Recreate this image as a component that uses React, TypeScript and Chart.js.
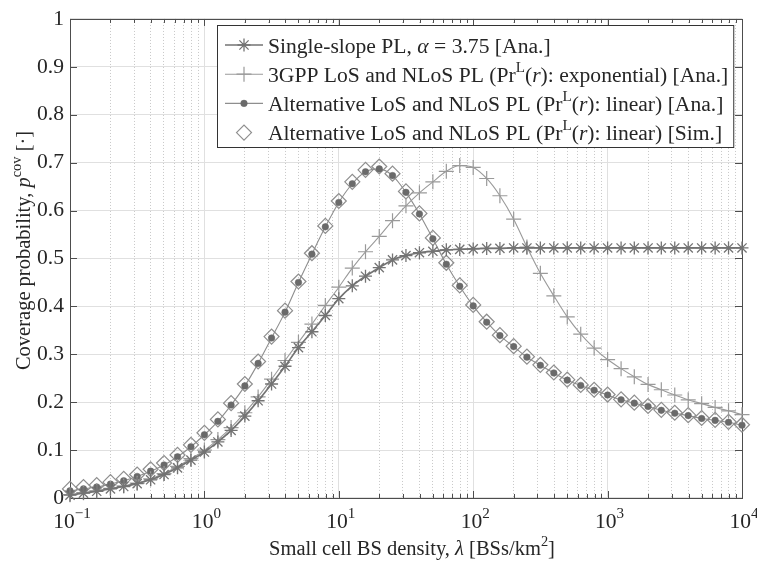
import React, { useEffect, useRef } from 'react';
import { Chart, registerables } from 'chart.js';
import { drawPoint } from 'chart.js/helpers';

Chart.register(...registerables);

// ---------- data ----------
const densities = [
  0.1, 0.126, 0.158, 0.2, 0.251, 0.316, 0.398, 0.501, 0.631, 0.794,
  1, 1.26, 1.58, 2, 2.51, 3.16, 3.98, 5.01, 6.31, 7.94,
  10, 12.6, 15.8, 20, 25.1, 31.6, 39.8, 50.1, 63.1, 79.4,
  100, 126, 158, 200, 251, 316, 398, 501, 631, 794,
  1000, 1260, 1580, 2000, 2510, 3160, 3980, 5010, 6310, 7940, 10000,
];

const singleSlope = [
  0.006, 0.010, 0.014, 0.019, 0.024, 0.030, 0.038, 0.049, 0.063, 0.079,
  0.096, 0.117, 0.141, 0.171, 0.203, 0.238, 0.275, 0.314, 0.347, 0.381,
  0.416, 0.443, 0.463, 0.481, 0.497, 0.506, 0.512, 0.515, 0.518, 0.519,
  0.520, 0.521, 0.521, 0.522, 0.522, 0.522, 0.522, 0.522, 0.522, 0.522,
  0.522, 0.522, 0.522, 0.522, 0.522, 0.522, 0.522, 0.522, 0.522, 0.522, 0.522,
];

const gppExp = [
  0.007, 0.011, 0.015, 0.020, 0.025, 0.031, 0.040, 0.051, 0.066, 0.082,
  0.100, 0.122, 0.147, 0.178, 0.211, 0.248, 0.287, 0.325, 0.363, 0.402,
  0.440, 0.480, 0.514, 0.546, 0.579, 0.610, 0.637, 0.660, 0.682, 0.694,
  0.690, 0.667, 0.631, 0.582, 0.524, 0.469, 0.422, 0.378, 0.342, 0.313,
  0.289, 0.270, 0.253, 0.237, 0.226, 0.215, 0.205, 0.197, 0.189, 0.182, 0.174,
];

const altLinearAna = [
  0.015, 0.019, 0.023, 0.029, 0.036, 0.045, 0.056, 0.069, 0.086, 0.107,
  0.132, 0.160, 0.194, 0.234, 0.281, 0.334, 0.388, 0.450, 0.509, 0.566,
  0.617, 0.656, 0.681, 0.687, 0.673, 0.638, 0.593, 0.541, 0.488, 0.442,
  0.401, 0.367, 0.339, 0.316, 0.294, 0.277, 0.261, 0.246, 0.235, 0.225,
  0.215, 0.205, 0.198, 0.191, 0.183, 0.177, 0.172, 0.166, 0.162, 0.158, 0.152,
];

const altLinearSim = [
  0.019, 0.023, 0.027, 0.033, 0.040, 0.049, 0.060, 0.073, 0.090, 0.111,
  0.136, 0.164, 0.198, 0.238, 0.285, 0.337, 0.391, 0.452, 0.511, 0.568,
  0.620, 0.660, 0.685, 0.692, 0.677, 0.640, 0.594, 0.543, 0.491, 0.444,
  0.403, 0.368, 0.340, 0.317, 0.295, 0.278, 0.262, 0.247, 0.236, 0.226,
  0.216, 0.206, 0.199, 0.192, 0.184, 0.178, 0.173, 0.167, 0.163, 0.159, 0.153,
];

const xDecades = [0.1, 1, 10, 100, 1000, 10000];
const xTickExponents = ['\u22121', '0', '1', '2', '3', '4'];
const xMinorMultipliers = [1, 2, 3, 4, 5, 6, 7, 8, 9];
const yTickLabels = ['0', '0.1', '0.2', '0.3', '0.4', '0.5', '0.6', '0.7', '0.8', '0.9', '1'];

type Seg = { t: string; i?: boolean; s?: boolean };
const legendRows: Seg[][] = [
  [{ t: 'Single-slope PL, ' }, { t: '\u03b1', i: true }, { t: ' = 3.75 [Ana.]' }],
  [{ t: '3GPP LoS and NLoS PL (Pr' }, { t: 'L', s: true }, { t: '(' }, { t: 'r', i: true }, { t: '): exponential) [Ana.]' }],
  [{ t: 'Alternative LoS and NLoS PL (Pr' }, { t: 'L', s: true }, { t: '(' }, { t: 'r', i: true }, { t: '): linear) [Ana.]' }],
  [{ t: 'Alternative LoS and NLoS PL (Pr' }, { t: 'L', s: true }, { t: '(' }, { t: 'r', i: true }, { t: '): linear) [Sim.]' }],
];
const xTitle: Seg[] = [{ t: 'Small cell BS density, ' }, { t: '\u03bb', i: true }, { t: ' [BSs/km' }, { t: '2', s: true }, { t: ']' }];
const yTitle: Seg[] = [{ t: 'Coverage probability, ' }, { t: 'p', i: true }, { t: 'cov', s: true }, { t: ' [\u00b7]' }];

// ---------- styling ----------
const SERIF = '"Liberation Serif", "Times New Roman", serif';
const FS = 21.6;
const TITLE_FS = 20.5;
const SUP_FS = 15;
const SUP_RAISE = 10;
const TEXT = '#262626';

function segFont(seg: Seg, base: number) {
  const size = seg.s ? Math.round(base * 0.7 * 10) / 10 : base;
  return `${seg.i ? 'italic ' : ''}${size}px ${SERIF}`;
}
function measureSegs(ctx: CanvasRenderingContext2D, segs: Seg[], base = FS) {
  let w = 0;
  for (const sg of segs) {
    ctx.font = segFont(sg, base);
    w += ctx.measureText(sg.t).width;
  }
  return w;
}
function drawSegs(ctx: CanvasRenderingContext2D, segs: Seg[], x: number, baseline: number, base = FS) {
  let cx = x;
  ctx.textBaseline = 'alphabetic';
  ctx.textAlign = 'left';
  for (const sg of segs) {
    ctx.font = segFont(sg, base);
    ctx.fillText(sg.t, cx, sg.s ? baseline - base * 0.46 : baseline);
    cx += ctx.measureText(sg.t).width;
  }
  return cx;
}

const isDecade = (v: number) => xDecades.some((d) => Math.abs(d - v) / d < 1e-6);

const frameGridPlugin = {
  id: 'matlabFrame',
  beforeDatasetsDraw(chart: any) {
    const { ctx, chartArea: a, scales } = chart;
    const xs = scales.x;
    const ys = scales.y;
    ctx.save();
    ctx.strokeStyle = '#4d4d4d';
    ctx.lineWidth = 1;
    ctx.beginPath();
    xs.ticks.forEach((t: any) => {
      const px = Math.round(xs.getPixelForValue(t.value)) + 0.5;
      const len = isDecade(t.value) ? 7 : 4;
      ctx.moveTo(px, a.bottom);
      ctx.lineTo(px, a.bottom - len);
      ctx.moveTo(px, a.top);
      ctx.lineTo(px, a.top + len);
    });
    ys.ticks.forEach((t: any) => {
      const py = Math.round(ys.getPixelForValue(t.value)) + 0.5;
      ctx.moveTo(a.left, py);
      ctx.lineTo(a.left + 7, py);
      ctx.moveTo(a.right, py);
      ctx.lineTo(a.right - 7, py);
    });
    ctx.stroke();
    ctx.strokeRect(Math.round(a.left) + 0.5, Math.round(a.top) + 0.5, Math.round(a.right - a.left), Math.round(a.bottom - a.top));
    ctx.restore();
  },
  afterDraw(chart: any) {
    const { ctx, chartArea: a, scales } = chart;
    const xs = scales.x;
    ctx.save();
    ctx.fillStyle = TEXT;
    xDecades.forEach((d, i) => {
      const segs: Seg[] = [{ t: '10' }, { t: xTickExponents[i], s: true }];
      const w = measureSegs(ctx, segs);
      const px = xs.getPixelForValue(d);
      drawSegs(ctx, segs, px - w / 2 + 2, 528);
    });
    const wx = measureSegs(ctx, xTitle, TITLE_FS);
    drawSegs(ctx, xTitle, (a.left + a.right) / 2 + 6 - wx / 2, 555, TITLE_FS);
    ctx.save();
    ctx.translate(30, (a.top + a.bottom) / 2 - 8);
    ctx.rotate(-Math.PI / 2);
    const wy = measureSegs(ctx, yTitle, TITLE_FS);
    drawSegs(ctx, yTitle, -wy / 2, 0, TITLE_FS);
    ctx.restore();

    // legend
    const left = 217, top = 25, bottom = 147;
    const textX = 268;
    const widths = legendRows.map((r) => measureSegs(ctx, r));
    const right = Math.max(731, textX + Math.max(...widths) + 5);
    ctx.fillStyle = '#ffffff';
    ctx.fillRect(left, top, right - left, bottom - top);
    ctx.strokeStyle = '#333333';
    ctx.lineWidth = 1;
    ctx.strokeRect(left + 0.5, top + 0.5, right - left, bottom - top);
    chart.data.datasets.forEach((ds: any, i: number) => {
      const cy = 45 + i * 29.2;
      if (ds.showLine !== false) {
        ctx.save();
        ctx.strokeStyle = ds.borderColor;
        ctx.lineWidth = ds.borderWidth;
        ctx.beginPath();
        ctx.moveTo(225, cy);
        ctx.lineTo(263, cy);
        ctx.stroke();
        ctx.restore();
      }
      ctx.save();
      ctx.strokeStyle = ds.pointBorderColor;
      ctx.fillStyle = ds.pointBackgroundColor;
      ctx.lineWidth = ds.pointBorderWidth;
      drawPoint(ctx, { pointStyle: ds.pointStyle, radius: ds.pointRadius, rotation: 0, borderWidth: ds.pointBorderWidth } as any, 244, cy);
      ctx.restore();
      ctx.fillStyle = TEXT;
      drawSegs(ctx, legendRows[i], textX, cy + 7.5);
    });
    ctx.restore();
  },
};

function pts(ys: number[]) {
  return densities.map((x, i) => ({ x, y: ys[i] }));
}

export default function App() {
  const ref = useRef<HTMLCanvasElement | null>(null);
  useEffect(() => {
    document.body.style.margin = '0';
    const canvas = ref.current;
    if (!canvas) return;
    const chart = new Chart(canvas, {
      type: 'line',
      data: {
        datasets: [
          {
            label: 'Single-slope PL, α = 3.75 [Ana.]',
            data: pts(singleSlope),
            borderColor: '#737373',
            borderWidth: 1.7,
            pointStyle: 'star',
            pointRadius: 6.5,
            pointBorderColor: '#737373',
            pointBackgroundColor: '#737373',
            pointBorderWidth: 1.3,
            cubicInterpolationMode: 'monotone',
            clip: false,
          } as any,
          {
            label: '3GPP LoS and NLoS PL (PrL(r): exponential) [Ana.]',
            data: pts(gppExp),
            borderColor: '#9a9a9a',
            borderWidth: 1.1,
            pointStyle: 'cross',
            pointRadius: 7.5,
            pointBorderColor: '#9a9a9a',
            pointBackgroundColor: '#9a9a9a',
            pointBorderWidth: 1.2,
            cubicInterpolationMode: 'monotone',
            clip: false,
          } as any,
          {
            label: 'Alternative LoS and NLoS PL (PrL(r): linear) [Ana.]',
            data: pts(altLinearAna),
            borderColor: '#8e8e8e',
            borderWidth: 1.1,
            pointStyle: 'circle',
            pointRadius: 3.3,
            pointBorderColor: '#6a6a6a',
            pointBackgroundColor: '#6a6a6a',
            pointBorderWidth: 0.5,
            cubicInterpolationMode: 'monotone',
            clip: false,
          } as any,
          {
            label: 'Alternative LoS and NLoS PL (PrL(r): linear) [Sim.]',
            data: pts(altLinearSim),
            showLine: false,
            borderColor: '#8e8e8e',
            borderWidth: 1.2,
            pointStyle: 'rectRot',
            pointRadius: 7.5,
            pointBorderColor: '#8e8e8e',
            pointBackgroundColor: 'rgba(0,0,0,0)',
            pointBorderWidth: 1.2,
            clip: false,
          } as any,
        ],
      },
      options: {
        animation: false,
        responsive: false,
        devicePixelRatio: 1,
        events: [],
        layout: { padding: { left: 0, top: 12, right: 15, bottom: 0 } },
        plugins: {
          legend: { display: false },
          tooltip: { enabled: false },
          title: { display: false },
        },
        scales: {
          x: {
            type: 'logarithmic',
            min: 0.1,
            max: 10000,
            afterBuildTicks: (scale: any) => {
              const ticks: any[] = [];
              xDecades.forEach((d) => {
                if (d >= 10000) {
                  ticks.push({ value: d });
                  return;
                }
                xMinorMultipliers.forEach((m) => ticks.push({ value: +(d * m).toPrecision(6) }));
              });
              scale.ticks = ticks;
            },
            afterFit: (scale: any) => {
              scale.height = 73;
            },
            ticks: { display: false, autoSkip: false },
            border: {
              display: false,
              dash: (c: any) => (isDecade(c.tick ? c.tick.value : 1) ? [] : [1, 2]),
            },
            grid: {
              drawTicks: false,
              lineWidth: 1,
              color: (c: any) => (isDecade(c.tick ? c.tick.value : 1) ? '#e0e0e0' : '#c8c8c8'),
            },
          },
          y: {
            type: 'linear',
            min: 0,
            max: 1,
            afterFit: (scale: any) => {
              scale.width = 70;
            },
            ticks: {
              stepSize: 0.1,
              padding: 6,
              color: TEXT,
              font: { family: SERIF, size: FS },
              callback: (_v: any, i: number) => yTickLabels[i],
            },
            border: { display: false },
            grid: { drawTicks: false, color: '#e0e0e0', lineWidth: 1 },
          },
        },
      },
      plugins: [frameGridPlugin],
    } as any);
    return () => chart.destroy();
  }, []);
  return (
    <div style={{ width: 757, height: 571, background: '#fff' }}>
      <canvas ref={ref} width={757} height={571} style={{ display: 'block', width: 757, height: 571 }} />
    </div>
  );
}
